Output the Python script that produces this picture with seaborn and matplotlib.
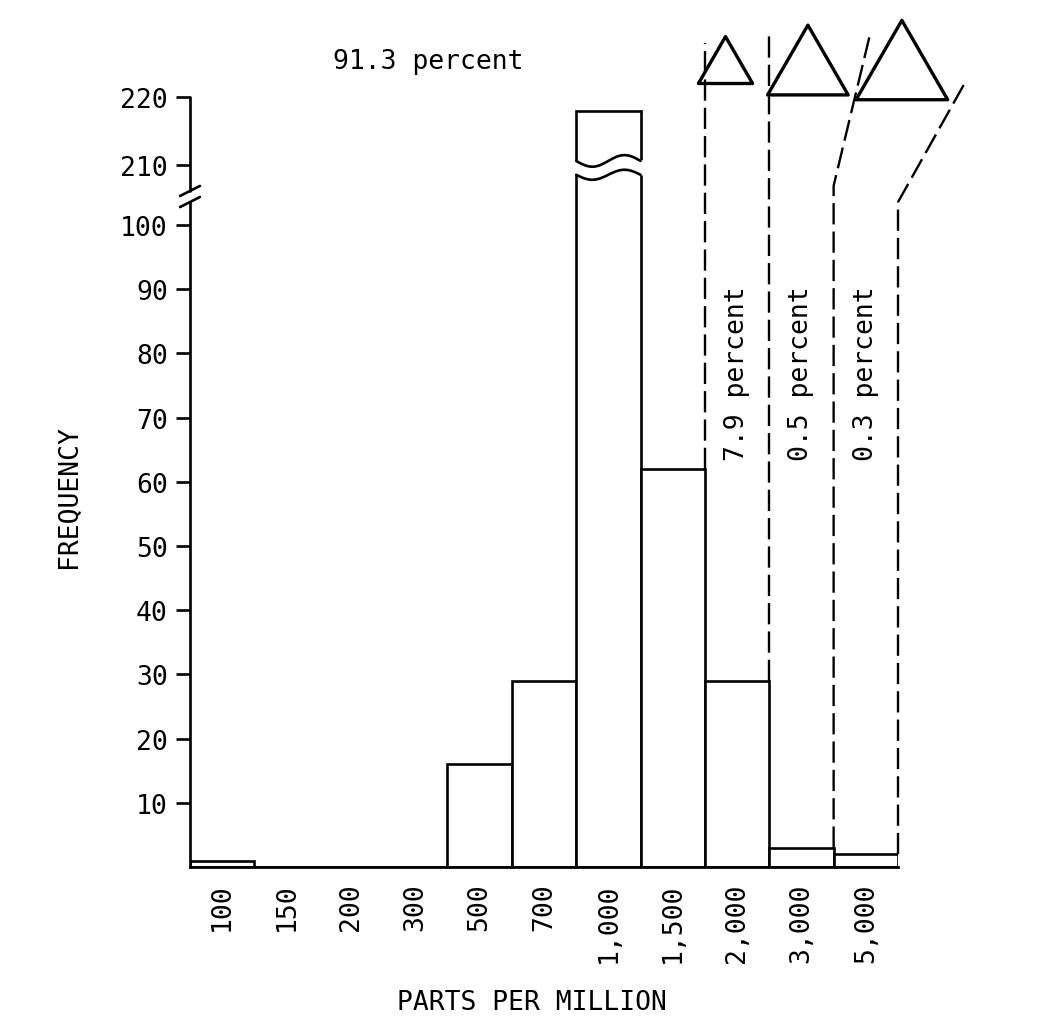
import numpy as np
import pandas as pd
import matplotlib
matplotlib.use('Agg')
import matplotlib.pyplot as plt
import seaborn as sns
from matplotlib.path import Path

# --- datos ---
ppm_labels = ['100', '150', '200', '300', '500', '700', '1,000', '1,500', '2,000', '3,000', '5,000']
frequency = [1, 0, 0, 0, 16, 29, 218, 62, 29, 3, 2]
y_ticks = [10, 20, 30, 40, 50, 60, 70, 80, 90, 100, 210, 220]
main_percent = '91.3 percent'
band_percent = ['7.9 percent', '0.5 percent', '0.3 percent']

# --- layout (posiciones de anotaciones) ---
band_text_x = [8, 9, 10]
band_text_y = 77
tri_x = [7.82, 9.1, 10.56]
tri_size = [39, 58, 66]
# lineas punteadas: x de salida (borde de barra), quiebre y final
dash_x = [7.5, 8.5, 9.5, 10.5]
dash_bend = [None, None, 172, 142]
dash_end = [(7.5, 228), (8.5, 229), (10.06, 229), (11.57, 222.6)]


def fwd(y):
    y = np.asarray(y, float)
    return np.where(y <= 100, y,
                    np.where(y >= 210, 109.35 + (y - 210) * 1.059,
                             100 + (y - 100) * 9.35 / 110))


def inv(t):
    t = np.asarray(t, float)
    return np.where(t <= 100, t,
                    np.where(t >= 109.35, 210 + (t - 109.35) / 1.059,
                             100 + (t - 100) * 110 / 9.35))


sns.set_style('ticks')
plt.rcParams['font.family'] = ['DejaVu Sans Mono', 'DejaVu Sans']
plt.rcParams['font.size'] = 19
for k in ['text.color', 'axes.labelcolor', 'xtick.color', 'ytick.color', 'axes.edgecolor']:
    plt.rcParams[k] = 'black'

fig = plt.figure(figsize=(10.38, 10.20), dpi=100)
ax = fig.add_axes([190 / 1038, 152 / 1020, 708 / 1038, 770 / 1020])

df = pd.DataFrame({'ppm': pd.Categorical(ppm_labels, categories=ppm_labels),
                   'freq': frequency})
sns.barplot(data=df, x='ppm', y='freq', color='white', edgecolor='black',
            linewidth=1.9, width=1.0, saturation=1, errorbar=None, ax=ax)

ax.set_yscale('function', functions=(fwd, inv))
ax.set_ylim(0, 220)
ax.set_xlim(-0.5, 10.5)
ax.set_yticks(y_ticks)
ax.set_yticklabels([str(v) for v in y_ticks])

for s in ['top', 'right', 'left']:
    ax.spines[s].set_visible(False)
ax.spines['bottom'].set_linewidth(2)
ax.tick_params(axis='y', length=10, width=1.9, pad=6, labelsize=19, colors='black')
ax.tick_params(axis='x', length=0, pad=11, labelsize=19, labelrotation=90, colors='black')

# eje y con corte
ax.plot([0, 0], [0, 0.8636], transform=ax.transAxes, color='black', lw=1.9, clip_on=False)
ax.plot([0, 0], [0.878, 1.0], transform=ax.transAxes, color='black', lw=1.9, clip_on=False)
for yb in [0.8636, 0.878]:
    ax.plot([-0.014, 0.014], [yb - 0.0065, yb + 0.0065], transform=ax.transAxes,
            color='black', lw=1.9, clip_on=False)

# corte ondulado de la barra de 1,000
xt = ax.get_xaxis_transform()
t = np.linspace(0, 1, 80)
top_wave = 0.917 - 0.0075 * np.sin(2 * np.pi * t)
bot_wave = 0.899 - 0.0065 * np.sin(2 * np.pi * t)
xs = 5.5 + t
xpoly = np.concatenate([[5.46], xs, [6.54, 6.54], xs[::-1], [5.46]])
ypoly = np.concatenate([[top_wave[0]], top_wave, [top_wave[-1], bot_wave[-1]],
                        bot_wave[::-1], [bot_wave[0]]])
ax.fill(xpoly, ypoly, transform=xt, color='white', zorder=3, clip_on=False)
ax.plot(xs, top_wave, transform=xt, color='black', lw=1.9, zorder=4)
ax.plot(xs, bot_wave, transform=xt, color='black', lw=1.9, zorder=4)

# lineas punteadas
for i, x0 in enumerate(dash_x):
    y0 = frequency[7 + i]
    px = [x0]
    py = [y0]
    if dash_bend[i] is not None:
        px.append(x0)
        py.append(dash_bend[i])
    px.append(dash_end[i][0])
    py.append(dash_end[i][1])
    ax.plot(px, py, color='black', lw=1.7, ls=(0, (9, 3)), clip_on=False, zorder=2)

# triangulos
tri_path = Path([(-1, -0.866), (1, -0.866), (0, 0.866), (-1, -0.866)],
                [Path.MOVETO, Path.LINETO, Path.LINETO, Path.CLOSEPOLY])
ax.scatter(tri_x, [1.048] * 3, s=np.square(tri_size), marker=tri_path,
           facecolors='none', edgecolors='black', linewidths=2.4,
           transform=xt, clip_on=False, zorder=5)

ax.text(3.2, 1.047, main_percent, transform=xt, ha='center', va='center')
for x, s in zip(band_text_x, band_percent):
    ax.text(x, band_text_y, s, rotation=90, ha='center', va='center')

ax.set_xlabel('PARTS PER MILLION', fontsize=19)
ax.set_ylabel('FREQUENCY', fontsize=19)
ax.xaxis.set_label_coords(0.483, -0.158)
ax.yaxis.set_label_coords(-0.153, 0.482)

fig.savefig('out.png', dpi=100)
